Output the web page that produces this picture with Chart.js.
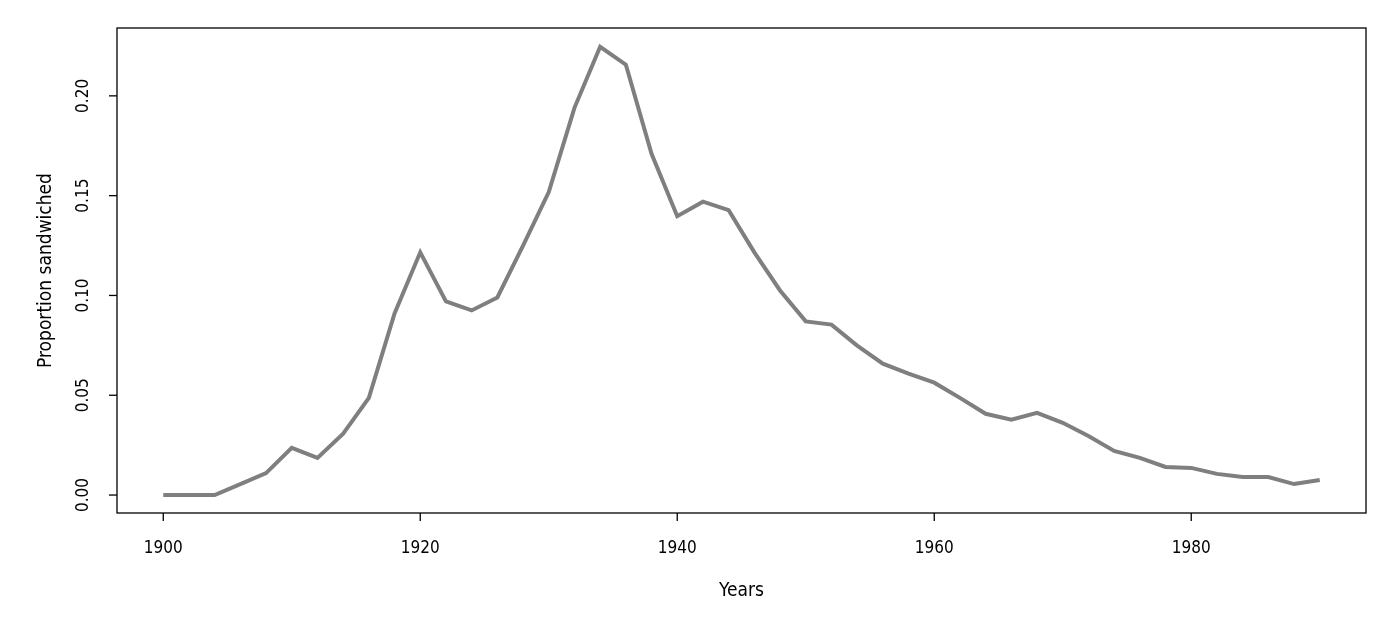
<!DOCTYPE html>
<html><head><meta charset="utf-8">
<script src="https://cdn.jsdelivr.net/npm/chart.js@4"></script>
<style>html,body{margin:0;padding:0;background:#fff}#w{width:1400px;height:624px}</style>
</head><body><div id="w"><canvas id="c"></canvas></div>
<script>
const years = [1900,1902,1904,1906,1908,1910,1912,1914,1916,1918,1920,1922,1924,1926,1928,1930,1932,1934,1936,1938,1940,1942,1944,1946,1948,1950,1952,1954,1956,1958,1960,1962,1964,1966,1968,1970,1972,1974,1976,1978,1980,1982,1984,1986,1988,1990];
const proportion = [0,0,0,0.0055,0.011,0.0236,0.0186,0.0307,0.0487,0.091,0.1216,0.097,0.0925,0.099,0.125,0.1518,0.194,0.2246,0.2156,0.171,0.1397,0.147,0.1427,0.1216,0.1025,0.087,0.0854,0.0749,0.0658,0.0608,0.0563,0.0487,0.0407,0.0377,0.0412,0.0362,0.0296,0.0221,0.0186,0.0141,0.0136,0.0106,0.009,0.009,0.0055,0.0075];
const xTicks = [1900,1920,1940,1960,1980];
const yTicks = [0,0.05,0.10,0.15,0.20];
const yTickLabels = ["0.00","0.05","0.10","0.15","0.20"];
const xTitle = "Years", yTitle = "Proportion sandwiched";
const FONT = '"Liberation Sans Narrow","DejaVu Sans Condensed","Roboto Condensed",sans-serif';

const decor = {
  id:'decor',
  afterDraw(ch){
    const c=ch.ctx, a=ch.chartArea, xs=ch.scales.x, ys=ch.scales.y;
    c.save();
    c.strokeStyle='#000'; c.lineWidth=1.3;
    c.strokeRect(a.left,a.top,a.right-a.left,a.bottom-a.top);
    c.fillStyle='#000'; c.font='17px '+FONT;
    c.textAlign='center'; c.textBaseline='middle';
    xTicks.forEach(v=>{const p=xs.getPixelForValue(v);
      c.beginPath();c.moveTo(p,a.bottom);c.lineTo(p,a.bottom+8);c.stroke();
      c.fillText(String(v),p,549);});
    yTicks.forEach((v,i)=>{const p=ys.getPixelForValue(v);
      c.beginPath();c.moveTo(a.left,p);c.lineTo(a.left-8,p);c.stroke();
      c.save();c.translate(84,p);c.rotate(-Math.PI/2);c.fillText(yTickLabels[i],0,0);c.restore();});
    c.font='19px '+FONT;
    c.fillText(xTitle,(a.left+a.right)/2,591);
    c.save();c.translate(46,(a.top+a.bottom)/2);c.rotate(-Math.PI/2);c.fillText(yTitle,0,0);c.restore();
    c.restore();
  }
};

new Chart(document.getElementById('c'),{
  type:'line',
  data:{datasets:[{data:years.map((y,i)=>({x:y,y:proportion[i]})),borderColor:'#7f7f7f',borderWidth:4,pointRadius:0,tension:0,fill:false}]},
  options:{
    responsive:true,maintainAspectRatio:false,animation:false,
    layout:{padding:{top:28,right:34,left:0,bottom:0}},
    plugins:{legend:{display:false},tooltip:{enabled:false}},
    scales:{
      x:{type:'linear',min:1896.4,max:1993.6,ticks:{display:false},grid:{display:false},border:{display:false},
         afterFit(s){s.height=111;}},
      y:{min:-0.009,max:0.234,ticks:{display:false},grid:{display:false},border:{display:false},
         afterFit(s){s.width=117;}}
    }
  },
  plugins:[decor]
});
</script></body></html>
